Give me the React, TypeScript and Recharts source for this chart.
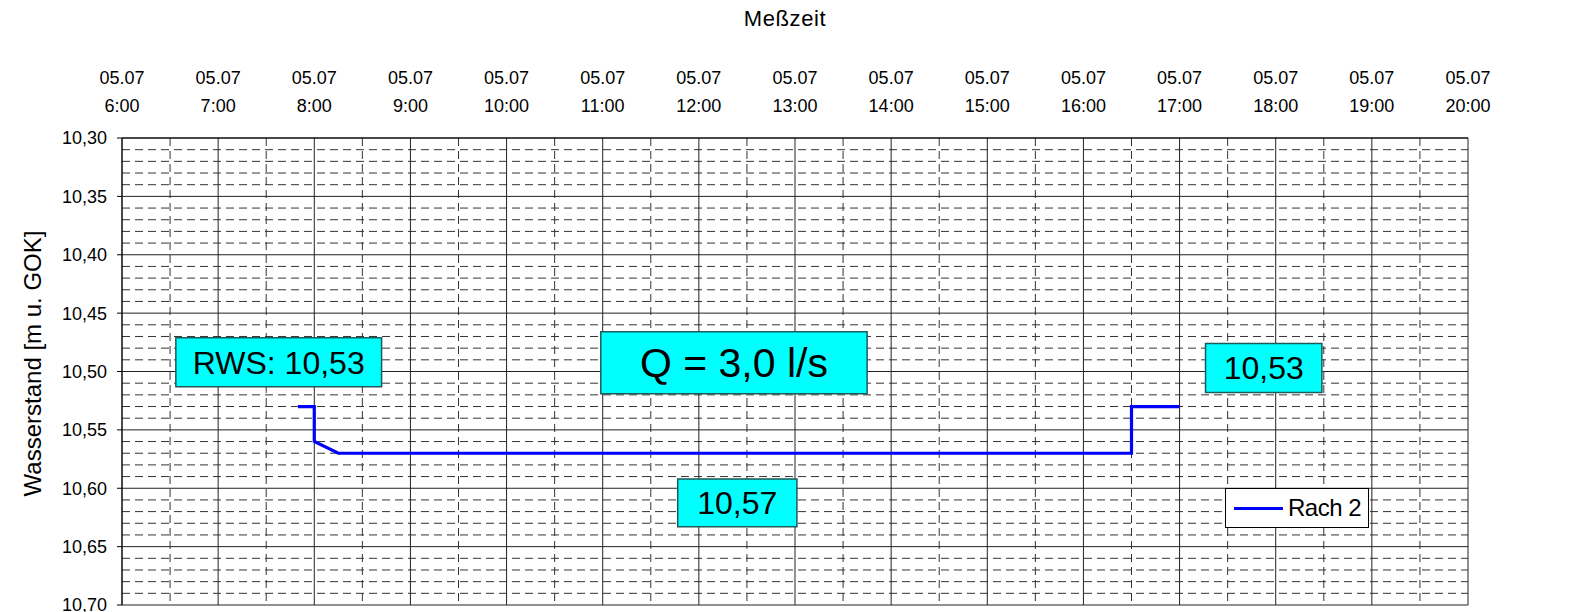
import { LineChart, Line, XAxis, YAxis, CartesianGrid, ReferenceArea, Legend } from "recharts"

// measurement times in hours (05.07), water level in m below ground
const times = [7.83, 8.0, 8.0, 8.25, 16.5, 16.5, 17.0]
const rach2 = [10.53, 10.53, 10.56, 10.57, 10.57, 10.53, 10.53]

const hourTicks = [6, 7, 8, 9, 10, 11, 12, 13, 14, 15, 16, 17, 18, 19, 20]
const dateLabel = "05.07"
const levelTicks = [10.3, 10.35, 10.4, 10.45, 10.5, 10.55, 10.6, 10.65, 10.7]

const data = times.map((t, i) => ({ t, rach2: rach2[i] }))

// minor grid (half hours, centimetres)
const halfHours = hourTicks.slice(0, -1).map((h) => h + 0.5)
const minorLevels: number[] = []
for (let i = 1; i < 40; i++) {
  if (i % 5 !== 0) minorLevels.push(Math.round((10.3 + i * 0.01) * 100) / 100)
}

// text boxes, in data coordinates
const notes = [
  { text: "RWS: 10,53", x1: 6.56, x2: 8.7, y1: 10.471, y2: 10.513, size: 32 },
  { text: "Q = 3,0 l/s", x1: 10.98, x2: 13.75, y1: 10.466, y2: 10.519, size: 41 },
  { text: "10,57", x1: 11.78, x2: 13.02, y1: 10.592, y2: 10.633, size: 32 },
  { text: "10,53", x1: 17.27, x2: 18.48, y1: 10.476, y2: 10.518, size: 32 },
]

const fmt = (v: number) => v.toFixed(2).replace(".", ",")

const HourTick = (props: any) => {
  const { x, y, payload } = props
  return (
    <text x={x} y={y} textAnchor="middle" fontSize={18} fill="#000">
      <tspan x={x} dy={-46}>{dateLabel}</tspan>
      <tspan x={x} dy={28}>{payload.value}:00</tspan>
    </text>
  )
}

const LegendBox = () => (
  <div
    style={{
      width: 142,
      height: 38,
      border: "1px solid #000",
      background: "#fff",
      display: "flex",
      alignItems: "center",
      boxSizing: "content-box",
    }}
  >
    <div style={{ width: 49, height: 3, background: "#0000ff", marginLeft: 8 }} />
    <span style={{ fontSize: 24, marginLeft: 5, color: "#000", letterSpacing: -0.5 }}>Rach 2</span>
  </div>
)

export default function App() {
  return (
    <div style={{ fontFamily: "'Liberation Sans', Arial, sans-serif" }}>
      <LineChart width={1565} height={604} data={data} margin={{ top: 60, right: 105, bottom: 7, left: 54 }}>
        <CartesianGrid
          horizontalValues={minorLevels}
          verticalValues={halfHours}
          stroke="#333"
          strokeDasharray="8 5"
        />
        <CartesianGrid horizontalValues={levelTicks} verticalValues={hourTicks} stroke="#222" />
        <XAxis
          dataKey="t"
          type="number"
          orientation="top"
          domain={[6, 20]}
          ticks={hourTicks}
          interval={0}
          height={70}
          tickLine={false}
          axisLine={{ stroke: "#000" }}
          tick={<HourTick />}
          label={{
            content: (p: any) => {
              const vb = p.viewBox || { x: 114, y: 60, width: 1346 }
              return (
                <text
                  x={vb.x + vb.width / 2 - 10}
                  y={vb.y - 42}
                  textAnchor="middle"
                  fontSize={22}
                  letterSpacing={0.6}
                  fill="#000"
                >
                  Meßzeit
                </text>
              )
            },
          }}
        />
        <YAxis
          type="number"
          reversed
          domain={[10.3, 10.7]}
          ticks={levelTicks}
          interval={0}
          tickFormatter={fmt}
          width={60}
          tickSize={5}
          tickMargin={10}
          tick={{ fill: "#000", fontSize: 18 }}
          tickLine={{ stroke: "#000" }}
          axisLine={{ stroke: "#000" }}
          label={{
            content: (p: any) => {
              const vb = p.viewBox || { x: 54, y: 130, height: 467 }
              const cx = vb.x - 27
              const cy = vb.y + vb.height / 2 - 8
              return (
                <text
                  x={cx}
                  y={cy}
                  transform={`rotate(-90, ${cx}, ${cy})`}
                  textAnchor="middle"
                  dominantBaseline="middle"
                  fontSize={24}
                  fill="#000"
                >
                  Wasserstand [m u. GOK]
                </text>
              )
            },
          }}
        />
        {notes.map((n) => (
          <ReferenceArea
            key={n.text + n.x1}
            x1={n.x1}
            x2={n.x2}
            y1={n.y1}
            y2={n.y2}
            fill="#00ffff"
            fillOpacity={1}
            stroke="#1d5a5a"
            strokeWidth={1.5}
            label={{ value: n.text, position: "center", fontSize: n.size, fill: "#000" }}
          />
        ))}
        <Line
          type="linear"
          dataKey="rach2"
          stroke="#0000ff"
          strokeWidth={3.2}
          dot={false}
          isAnimationActive={false}
        />
        <Legend
          layout="vertical"
          align="center"
          verticalAlign="middle"
          content={() => <LegendBox />}
          wrapperStyle={{ position: "absolute", left: 1217, top: 480, width: "auto", height: "auto" }}
        />
      </LineChart>
    </div>
  )
}
